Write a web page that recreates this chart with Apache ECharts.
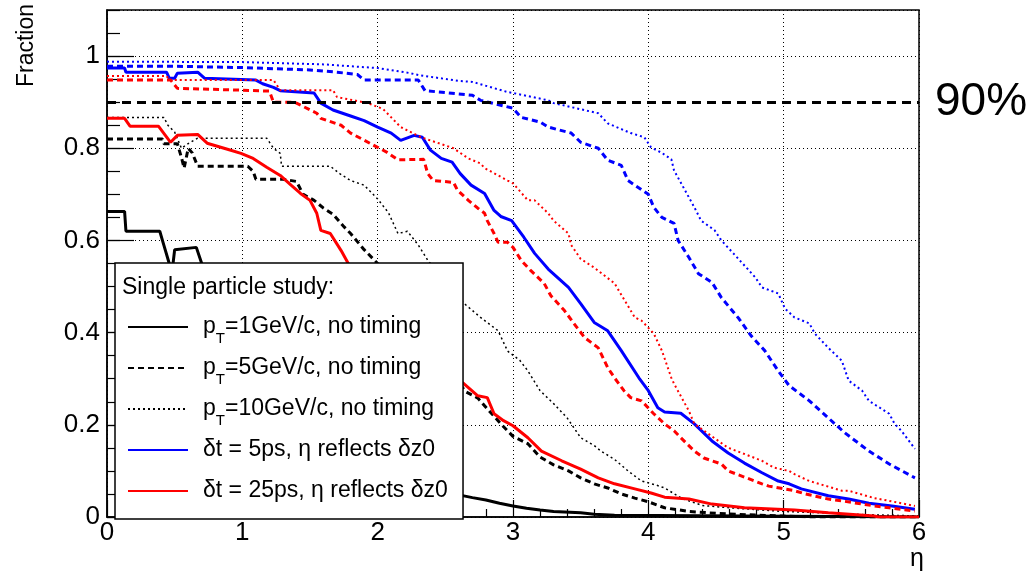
<!DOCTYPE html>
<html>
<head>
<meta charset="utf-8">
<script src="https://cdn.jsdelivr.net/npm/echarts@6/dist/echarts.min.js"></script>
<style>
  html, body { margin: 0; padding: 0; background: #fff; }
  #chart { width: 1029px; height: 577px; }
</style>
</head>
<body>
<div id="chart"></div>
<script>
// eta range / ticks
const etaMin = 0
const etaMax = 6
const etaStep = 1
const fracMin = 0
const fracMax = 1.1
const fracStep = 0.2
const fracMinorStep = 0.05
const threshold = 0.9

// [eta, fraction]
const pt1NoTiming = [[0, 0.663], [0.13, 0.663], [0.14, 0.62], [0.39, 0.62], [0.42, 0.59], [0.46, 0.55], [0.48, 0.53], [0.5, 0.58], [0.66, 0.585], [0.7, 0.55], [0.8, 0.5], [1.0, 0.44], [1.2, 0.38], [1.4, 0.32], [1.6, 0.26], [1.8, 0.2], [2.0, 0.15], [2.2, 0.11], [2.4, 0.075], [2.6, 0.048], [2.7, 0.042], [2.8, 0.037], [2.9, 0.03], [3.0, 0.024], [3.1, 0.019], [3.2, 0.015], [3.3, 0.012], [3.5, 0.009], [3.6, 0.006], [3.75, 0.004], [3.76, 0], [6, 0]]
const pt5NoTiming = [[0, 0.82], [0.41, 0.82], [0.42, 0.81], [0.52, 0.81], [0.55, 0.78], [0.57, 0.757], [0.6, 0.8], [0.63, 0.79], [0.67, 0.761], [1.04, 0.761], [1.08, 0.75], [1.1, 0.733], [1.3, 0.733], [1.4, 0.728], [1.45, 0.7], [1.53, 0.687], [1.6, 0.67], [1.67, 0.657], [1.75, 0.63], [1.8, 0.615], [1.9, 0.58], [2.0, 0.55], [2.2, 0.46], [2.4, 0.37], [2.55, 0.31], [2.65, 0.272], [2.74, 0.258], [2.84, 0.225], [2.91, 0.202], [3.0, 0.175], [3.11, 0.159], [3.2, 0.13], [3.3, 0.113], [3.41, 0.1], [3.5, 0.085], [3.6, 0.072], [3.7, 0.063], [3.8, 0.05], [3.9, 0.041], [4.0, 0.033], [4.12, 0.02], [4.3, 0.012], [4.5, 0.008], [4.8, 0.004], [5.0, 0.002], [5.2, 0], [6, 0]]
const pt10NoTiming = [[0, 0.867], [0.42, 0.867], [0.45, 0.85], [0.5, 0.835], [0.55, 0.8], [0.6, 0.81], [0.67, 0.822], [1.18, 0.822], [1.23, 0.8], [1.28, 0.789], [1.29, 0.761], [1.65, 0.761], [1.72, 0.745], [1.8, 0.73], [1.9, 0.72], [2.0, 0.69], [2.08, 0.66], [2.15, 0.615], [2.22, 0.62], [2.3, 0.59], [2.37, 0.557], [2.5, 0.51], [2.64, 0.463], [2.76, 0.433], [2.89, 0.404], [2.96, 0.36], [3.05, 0.34], [3.11, 0.317], [3.2, 0.274], [3.3, 0.246], [3.4, 0.215], [3.5, 0.172], [3.6, 0.155], [3.65, 0.143], [3.75, 0.125], [3.85, 0.1], [3.95, 0.078], [4.05, 0.07], [4.12, 0.063], [4.25, 0.04], [4.4, 0.025], [4.6, 0.02], [4.8, 0.016], [5.0, 0.012], [5.3, 0.009], [5.6, 0.005], [5.9, 0.003], [6, 0.002]]

const dt5Pt1 = [[0, 0.974], [0.13, 0.974], [0.14, 0.965], [0.44, 0.965], [0.46, 0.952], [0.5, 0.952], [0.52, 0.963], [0.67, 0.965], [0.72, 0.952], [1.1, 0.948], [1.15, 0.94], [1.23, 0.932], [1.28, 0.925], [1.53, 0.92], [1.58, 0.898], [1.67, 0.883], [1.8, 0.87], [1.9, 0.86], [2.0, 0.846], [2.1, 0.833], [2.17, 0.817], [2.27, 0.828], [2.33, 0.824], [2.39, 0.796], [2.47, 0.778], [2.55, 0.77], [2.61, 0.745], [2.69, 0.72], [2.79, 0.702], [2.86, 0.665], [2.91, 0.652], [2.99, 0.643], [3.08, 0.607], [3.16, 0.572], [3.26, 0.538], [3.41, 0.498], [3.5, 0.463], [3.6, 0.422], [3.7, 0.404], [3.8, 0.361], [3.93, 0.302], [4.0, 0.274], [4.07, 0.237], [4.12, 0.228], [4.24, 0.225], [4.34, 0.202], [4.47, 0.165], [4.59, 0.139], [4.71, 0.117], [4.84, 0.096], [4.96, 0.078], [5.04, 0.072], [5.13, 0.061], [5.33, 0.046], [5.48, 0.039], [5.63, 0.03], [5.8, 0.024], [5.97, 0.017]]
const dt5Pt5 = [[0, 0.978], [0.5, 0.978], [1.0, 0.975], [1.5, 0.97], [1.7, 0.965], [1.85, 0.96], [1.9, 0.948], [2.3, 0.948], [2.35, 0.925], [2.7, 0.915], [2.76, 0.904], [3.0, 0.887], [3.06, 0.867], [3.2, 0.857], [3.26, 0.846], [3.43, 0.833], [3.5, 0.813], [3.63, 0.8], [3.7, 0.774], [3.8, 0.763], [3.85, 0.73], [4.0, 0.7], [4.04, 0.672], [4.1, 0.65], [4.19, 0.637], [4.22, 0.6], [4.3, 0.563], [4.37, 0.528], [4.47, 0.509], [4.54, 0.476], [4.67, 0.43], [4.76, 0.393], [4.86, 0.361], [4.96, 0.317], [5.04, 0.285], [5.19, 0.252], [5.33, 0.215], [5.45, 0.183], [5.63, 0.143], [5.78, 0.115], [5.97, 0.085]]
const dt5Pt10 = [[0, 0.988], [1.0, 0.987], [1.6, 0.982], [1.8, 0.978], [2.0, 0.974], [2.24, 0.963], [2.3, 0.959], [2.6, 0.946], [2.7, 0.944], [2.96, 0.922], [3.0, 0.92], [3.26, 0.904], [3.3, 0.898], [3.63, 0.876], [3.7, 0.854], [3.87, 0.833], [3.97, 0.824], [4.02, 0.802], [4.1, 0.79], [4.17, 0.776], [4.19, 0.752], [4.34, 0.672], [4.39, 0.643], [4.49, 0.622], [4.54, 0.6], [4.65, 0.565], [4.79, 0.52], [4.84, 0.498], [4.96, 0.485], [5.01, 0.452], [5.08, 0.433], [5.19, 0.42], [5.23, 0.398], [5.33, 0.367], [5.43, 0.339], [5.48, 0.296], [5.58, 0.274], [5.63, 0.252], [5.78, 0.224], [5.82, 0.202], [5.87, 0.187], [5.97, 0.148]]

const dt25Pt1 = [[0, 0.865], [0.13, 0.865], [0.17, 0.848], [0.38, 0.848], [0.47, 0.813], [0.52, 0.828], [0.67, 0.83], [0.74, 0.811], [0.89, 0.798], [0.99, 0.789], [1.08, 0.778], [1.18, 0.759], [1.28, 0.741], [1.36, 0.72], [1.43, 0.702], [1.5, 0.687], [1.55, 0.659], [1.58, 0.622], [1.65, 0.615], [1.73, 0.578], [1.8, 0.541], [1.9, 0.5], [2.0, 0.46], [2.2, 0.39], [2.4, 0.34], [2.63, 0.291], [2.74, 0.263], [2.81, 0.259], [2.86, 0.224], [2.93, 0.209], [3.0, 0.198], [3.11, 0.172], [3.21, 0.143], [3.36, 0.122], [3.5, 0.104], [3.63, 0.085], [3.75, 0.072], [3.9, 0.061], [4.02, 0.052], [4.12, 0.043], [4.3, 0.039], [4.47, 0.028], [4.71, 0.02], [5.08, 0.015], [5.33, 0.009], [5.67, 0.002], [5.7, 0], [6, 0]]
const dt25Pt5 = [[0, 0.948], [0.47, 0.948], [0.52, 0.93], [1.0, 0.926], [1.2, 0.924], [1.23, 0.9], [1.38, 0.9], [1.4, 0.898], [1.55, 0.876], [1.58, 0.865], [1.73, 0.85], [1.8, 0.833], [2.0, 0.802], [2.07, 0.791], [2.15, 0.775], [2.34, 0.776], [2.37, 0.745], [2.41, 0.73], [2.56, 0.726], [2.59, 0.709], [2.67, 0.687], [2.74, 0.67], [2.79, 0.659], [2.81, 0.643], [2.86, 0.615], [2.89, 0.596], [2.96, 0.596], [3.0, 0.585], [3.06, 0.557], [3.13, 0.535], [3.23, 0.507], [3.28, 0.48], [3.38, 0.448], [3.45, 0.42], [3.53, 0.389], [3.63, 0.367], [3.7, 0.324], [3.75, 0.302], [3.82, 0.274], [3.87, 0.259], [3.95, 0.252], [4.04, 0.224], [4.12, 0.202], [4.19, 0.187], [4.24, 0.172], [4.34, 0.143], [4.41, 0.128], [4.54, 0.115], [4.59, 0.1], [4.84, 0.072], [4.89, 0.067], [5.08, 0.057], [5.16, 0.05], [5.33, 0.039], [5.43, 0.035], [5.67, 0.024], [5.78, 0.02], [5.97, 0.013]]
const dt25Pt10 = [[0, 0.957], [0.44, 0.957], [0.46, 0.948], [1.23, 0.948], [1.28, 0.926], [1.67, 0.926], [1.7, 0.911], [1.93, 0.898], [2.04, 0.885], [2.17, 0.846], [2.32, 0.824], [2.49, 0.807], [2.56, 0.8], [2.67, 0.778], [2.76, 0.767], [2.79, 0.757], [2.96, 0.73], [3.0, 0.724], [3.11, 0.687], [3.16, 0.687], [3.26, 0.659], [3.3, 0.643], [3.41, 0.615], [3.43, 0.59], [3.5, 0.56], [3.6, 0.541], [3.75, 0.507], [3.9, 0.433], [3.95, 0.426], [4.04, 0.398], [4.1, 0.361], [4.17, 0.302], [4.19, 0.289], [4.3, 0.23], [4.34, 0.202], [4.59, 0.15], [4.61, 0.148], [4.84, 0.122], [4.93, 0.107], [5.04, 0.1], [5.08, 0.093], [5.19, 0.078], [5.26, 0.072], [5.43, 0.057], [5.48, 0.057], [5.67, 0.041], [5.78, 0.035], [5.97, 0.024]]

// legend texts, rich-text so that p_T gets a subscript
const legendNames = ['pT1', 'pT5', 'pT10', 'dt5', 'dt25']
const legendText = {
  pT1: '{a|p}{s|T}{b|=1GeV/c, no timing}',
  pT5: '{a|p}{s|T}{b|=5GeV/c, no timing}',
  pT10: '{a|p}{s|T}{b|=10GeV/c, no timing}',
  dt5: '{a|δt = 5ps, η reflects δz0}{s| }',
  dt25: '{a|δt = 25ps, η reflects δz0}{s| }'
}

const FONT = 'Liberation Sans, Arial, Helvetica, sans-serif'
const BLUE = '#0000ff'
const RED = '#ff0000'
const SOLID = 'solid'
const DASH = [6, 4]
const DOT = [2, 3]

function curve(name, data, color, width, type) {
  return {
    name: name,
    type: 'line',
    data: data,
    symbol: 'none',
    silent: true,
    z: 2,
    lineStyle: { color: color, width: width, type: type },
    itemStyle: { color: color }
  }
}

const myChart = echarts.init(document.getElementById('chart'))
myChart.setOption({
  animation: false,
  grid: {
    left: 107,
    right: 110,
    top: 10,
    bottom: 60,
    show: true,
    borderColor: '#000',
    borderWidth: 1.5,
    backgroundColor: 'transparent'
  },
  title: {
    text: 'Single particle study:',
    left: 122,
    top: 276,
    padding: 0,
    z: 10,
    textStyle: { fontFamily: FONT, fontSize: 23, fontWeight: 'normal', color: '#000' }
  },
  legend: {
    data: legendNames,
    orient: 'vertical',
    left: 115,
    top: 263,
    padding: [46, 11, 9, 12],
    itemWidth: 60,
    itemHeight: 14,
    itemGap: 4,
    selectedMode: false,
    backgroundColor: '#fff',
    borderColor: '#000',
    borderWidth: 1.5,
    itemStyle: { opacity: 0 },
    formatter: name => legendText[name],
    textStyle: {
      fontFamily: FONT,
      fontSize: 23,
      color: '#000',
      rich: {
        a: { fontFamily: FONT, fontSize: 23, color: '#000', lineHeight: 36, padding: [0, 0, 0, 10] },
        b: { fontFamily: FONT, fontSize: 23, color: '#000', lineHeight: 36 },
        s: { fontFamily: FONT, fontSize: 15, color: '#000', lineHeight: 14, verticalAlign: 'top', padding: [22, 0, 0, 0] }
      }
    }
  },
  xAxis: {
    type: 'value',
    min: etaMin,
    max: etaMax,
    interval: etaStep,
    axisLine: { show: true, lineStyle: { color: '#000', width: 1.5 } },
    axisTick: { show: true, inside: true, length: 17, lineStyle: { color: '#000', width: 1.2 } },
    minorTick: { show: true, splitNumber: 5, length: 8, lineStyle: { color: '#000', width: 1.2 } },
    axisLabel: { fontFamily: FONT, fontSize: 26, color: '#000', margin: 3 },
    splitLine: { show: true, lineStyle: { color: '#000', width: 1, type: [1, 3] } }
  },
  yAxis: [
    {
      type: 'value',
      min: fracMin,
      max: fracMax,
      interval: fracStep,
      axisLine: { show: true, lineStyle: { color: '#000', width: 1.5 } },
      axisTick: { show: true, inside: true, length: 27, lineStyle: { color: '#000', width: 1.2 } },
      axisLabel: { fontFamily: FONT, fontSize: 26, color: '#000', margin: 7, showMaxLabel: false },
      splitLine: { show: true, lineStyle: { color: '#000', width: 1, type: [1, 3] } }
    },
    {
      // small ticks every 0.05
      type: 'value',
      position: 'left',
      offset: 0,
      min: fracMin,
      max: fracMax,
      interval: fracMinorStep,
      axisLine: { show: false },
      axisTick: { show: true, inside: true, length: 13, lineStyle: { color: '#000', width: 1.2 } },
      axisLabel: { show: false },
      splitLine: { show: false }
    }
  ],
  graphic: [
    {
      type: 'text',
      x: 27,
      y: 4,
      rotation: Math.PI / 2,
      style: { text: 'Fraction', fontFamily: FONT, fontSize: 23, fill: '#000', align: 'right', verticalAlign: 'middle' }
    },
    {
      type: 'text',
      x: 917,
      y: 559,
      style: { text: 'η', fontFamily: FONT, fontSize: 25, fill: '#000', align: 'center', verticalAlign: 'middle' }
    }
  ],
  series: [
    curve('pT1', pt1NoTiming, '#000', 3, SOLID),
    curve('pT5', pt5NoTiming, '#000', 3, DASH),
    curve('pT10', pt10NoTiming, '#000', 1.5, DOT),
    curve('dt5 pT5', dt5Pt5, BLUE, 3, DASH),
    curve('dt5 pT10', dt5Pt10, BLUE, 2, DOT),
    curve('dt5', dt5Pt1, BLUE, 3, SOLID),
    curve('dt25 pT5', dt25Pt5, RED, 3, DASH),
    curve('dt25 pT10', dt25Pt10, RED, 2, DOT),
    curve('dt25', dt25Pt1, RED, 3, SOLID),
    {
      name: 'threshold',
      type: 'line',
      data: [],
      z: 3,
      markLine: {
        silent: true,
        symbol: 'none',
        data: [{ yAxis: threshold }],
        lineStyle: { color: '#000', width: 3, type: [9, 6] },
        label: { show: true, position: 'end', formatter: '90%', distance: 16, fontFamily: FONT, fontSize: 46, color: '#000' }
      }
    }
  ]
})
</script>
</body>
</html>
